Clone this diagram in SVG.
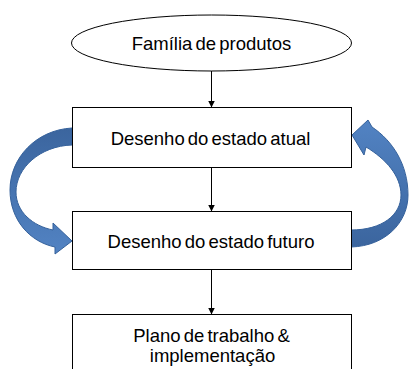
<svg xmlns="http://www.w3.org/2000/svg" width="409" height="369" viewBox="0 0 409 369">
  <defs>
    <style>
      .node { fill: #ffffff; stroke: #000000; stroke-width: 1; }
      .label { font-family: "Liberation Sans", Arial, sans-serif; font-size: 18.5px; fill: #000000; text-anchor: middle; word-spacing: -2px; }
      .conn { stroke: #000000; stroke-width: 1; fill: none; marker-end: url(#ah); }
      .curve { stroke: #35619b; stroke-width: 1; }
    </style>
    <marker id="ah" viewBox="0 0 10 10" refX="10" refY="5" markerWidth="7" markerHeight="7" markerUnits="userSpaceOnUse" orient="auto">
      <path d="M0,0 L10,5 L0,10 Z" fill="#000000"/>
    </marker>
    <linearGradient id="gl" x1="0" y1="0" x2="0" y2="1">
      <stop offset="0" stop-color="#3b659e"/>
      <stop offset="1" stop-color="#5283c3"/>
    </linearGradient>
    <linearGradient id="gr" x1="0" y1="1" x2="0" y2="0">
      <stop offset="0" stop-color="#3b659e"/>
      <stop offset="1" stop-color="#5283c3"/>
    </linearGradient>
  </defs>

  <g id="connectors">
    <line class="conn" x1="211.5" y1="71" x2="211.5" y2="107.5"/>
    <line class="conn" x1="211.5" y1="167" x2="211.5" y2="211.5"/>
    <line class="conn" x1="211.5" y1="269" x2="211.5" y2="314.5"/>
    <path id="loop-left" class="curve" fill="url(#gl)" d="M72,128 C36,130 10,158 10,190 C10,220 30,242 55,247 L55,254 L72,241 L53,223 L53,230 C33,226 16,212 16,192 C16,168 40,146 72,145 Z"/>
    <path id="loop-right" class="curve" fill="url(#gr)" d="M351,247 C386,246 408,222 408,195 C408,165 393,141 372,127 L368,120 L352,135 L364,155 L366,147 C386,159 401,176 401,195 C401,215 382,230 351,230 Z"/>
  </g>

  <g id="node-familia">
    <ellipse class="node" cx="211.5" cy="43" rx="140" ry="28"/>
    <text class="label" x="211.5" y="50">Família de produtos</text>
  </g>

  <g id="node-atual">
    <rect class="node" x="72.5" y="107.5" width="279" height="60"/>
    <text class="label" x="210.5" y="145">Desenho do estado atual</text>
  </g>

  <g id="node-futuro">
    <rect class="node" x="72.5" y="211.5" width="279" height="58"/>
    <text class="label" x="211" y="248">Desenho do estado futuro</text>
  </g>

  <g id="node-plano">
    <rect class="node" x="72.5" y="314.5" width="279" height="70"/>
    <text class="label" x="211.5" y="342">Plano de trabalho &amp;</text>
    <text class="label" x="212.5" y="362">implementação</text>
  </g>
</svg>
